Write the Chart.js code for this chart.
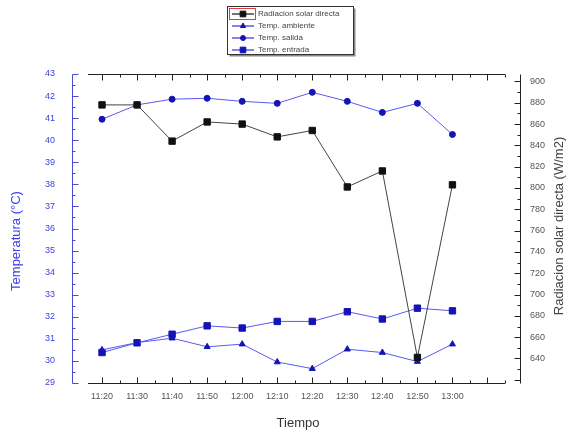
<!DOCTYPE html>
<html>
<head>
<meta charset="utf-8">
<script src="https://cdn.jsdelivr.net/npm/chart.js@4"></script>
<style>
  html, body { margin: 0; padding: 0; background: #fff; }
</style>
</head>
<body>
<canvas id="radChart" width="572" height="434"></canvas>
<script>
// Datos
const horas = ['11:20', '11:30', '11:40', '11:50', '12:00', '12:10', '12:20', '12:30', '12:40', '12:50', '13:00'];
const radiacion = [878, 878, 844, 862, 860, 848, 854, 801, 816, 641, 803];        // W/m2, eje derecho
const tempAmbiente = [30.5, 30.83, 31.03, 30.64, 30.76, 29.95, 29.65, 30.53, 30.38, 29.97, 30.76];
const tempSalida = [40.95, 41.6, 41.86, 41.9, 41.76, 41.67, 42.17, 41.76, 41.26, 41.67, 40.26];
const tempEntrada = [30.38, 30.82, 31.21, 31.59, 31.49, 31.79, 31.79, 32.23, 31.9, 32.39, 32.27];
const tempTicks = [29, 30, 31, 32, 33, 34, 35, 36, 37, 38, 39, 40, 41, 42, 43];
const radTicks = [640, 660, 680, 700, 720, 740, 760, 780, 800, 820, 840, 860, 880, 900];

const FONT = "'Liberation Sans', Arial, sans-serif";
const AZUL_LINEA = '#5a5af0';
const AZUL_PUNTO = '#1414b4';

function puntos(valores) {
  return valores.map((v, i) => ({ x: i, y: v }));
}

function linea(ctx, x1, y1, x2, y2) {
  ctx.beginPath();
  ctx.moveTo(x1, y1);
  ctx.lineTo(x2, y2);
  ctx.stroke();
}

// ejes separados al estilo Origin, con marcas hacia dentro
const ejesOrigin = {
  id: 'ejesOrigin',
  beforeDatasetsDraw(chart) {
    const { ctx, chartArea: a, scales } = chart;
    const yb = Math.round(a.bottom) + 0.5;
    const yt = Math.round(a.top) + 0.5;
    ctx.save();
    ctx.lineWidth = 1;

    ctx.strokeStyle = '#222';
    linea(ctx, a.left, yb, a.right, yb);
    linea(ctx, a.left, yt, a.right, yt);
    for (let v = 0; v <= 11.5; v += 0.5) {
      const px = Math.round(scales.x.getPixelForValue(v)) + 0.5;
      const len = Number.isInteger(v) ? 6 : 3;
      linea(ctx, px, yb, px, yb - len);
      linea(ctx, px, yt, px, yt + len);
    }

    const xl = Math.round(a.left) - 16 + 0.5;
    ctx.strokeStyle = '#4a4ad8';
    linea(ctx, xl, yt, xl, yb);
    for (let v = tempTicks[0]; v <= tempTicks[tempTicks.length - 1]; v += 0.5) {
      const py = Math.round(scales.y.getPixelForValue(v)) + 0.5;
      linea(ctx, xl, py, xl + (Number.isInteger(v) ? 6 : 3), py);
    }

    const xr = Math.round(a.right) + 15 + 0.5;
    ctx.strokeStyle = '#222';
    linea(ctx, xr, yt, xr, yb);
    for (let v = 620; v <= 900; v += 10) {
      const py = Math.round(scales.y1.getPixelForValue(v)) + 0.5;
      linea(ctx, xr, py, xr - (v % 20 === 0 ? 6 : 3), py);
    }
    ctx.restore();
  },
  afterDraw(chart) {
    const { ctx } = chart;
    ctx.save();
    ctx.textAlign = 'center';
    ctx.textBaseline = 'middle';
    ctx.font = '13px ' + FONT;

    ctx.fillStyle = '#333';
    ctx.fillText('Tiempo', 298, 423);

    ctx.save();
    ctx.translate(16, 241);
    ctx.rotate(-Math.PI / 2);
    ctx.fillStyle = '#3c3cf0';
    ctx.fillText('Temperatura (°C)', 0, 0);
    ctx.restore();

    ctx.save();
    ctx.translate(559, 226);
    ctx.rotate(-Math.PI / 2);
    ctx.fillStyle = '#444';
    ctx.fillText('Radiacion solar directa (W/m2)', 0, 0);
    ctx.restore();

    // leyenda
    const bx = 227.5, by = 6.5, bw = 126, bh = 48;
    ctx.fillStyle = '#888';
    ctx.fillRect(bx + 2, by + 2, bw, bh);
    ctx.fillStyle = '#fff';
    ctx.fillRect(bx, by, bw, bh);
    ctx.strokeStyle = '#333';
    ctx.lineWidth = 1;
    ctx.strokeRect(bx, by, bw, bh);

    ctx.font = '8px ' + FONT;
    ctx.textAlign = 'left';
    chart.data.datasets.forEach((ds, i) => {
      const cy = 14 + i * 12;
      ctx.strokeStyle = ds.borderColor;
      ctx.lineWidth = 1.5;
      linea(ctx, 232, cy, 254, cy);
      ctx.fillStyle = ds.pointBackgroundColor;
      ctx.strokeStyle = ds.pointBackgroundColor;
      ctx.lineWidth = 1;
      Chart.helpers.drawPoint(ctx, {
        pointStyle: ds.pointStyle, radius: ds.pointRadius - 0.5, borderWidth: 1, rotation: 0
      }, 243, cy);
      ctx.fillStyle = '#444';
      ctx.fillText(ds.label, 258, cy);
    });
    ctx.strokeStyle = '#e04040';
    ctx.lineWidth = 1;
    ctx.strokeRect(229.5, 8.5, 26, 11);
    ctx.restore();
  }
};

const rad = document.getElementById('radChart');
new Chart(rad, {
  type: 'line',
  data: {
    datasets: [{
      label: 'Radiacion solar directa',
      data: puntos(radiacion),
      yAxisID: 'y1',
      borderColor: '#444',
      pointBackgroundColor: '#111',
      pointBorderColor: '#111',
      pointStyle: 'rect',
      pointRadius: 4.5
    }, {
      label: 'Temp. ambiente',
      data: puntos(tempAmbiente),
      yAxisID: 'y',
      borderColor: AZUL_LINEA,
      pointBackgroundColor: AZUL_PUNTO,
      pointBorderColor: AZUL_PUNTO,
      pointStyle: 'triangle',
      pointRadius: 3.5
    }, {
      label: 'Temp. salida',
      data: puntos(tempSalida),
      yAxisID: 'y',
      borderColor: AZUL_LINEA,
      pointBackgroundColor: AZUL_PUNTO,
      pointBorderColor: AZUL_PUNTO,
      pointStyle: 'circle',
      pointRadius: 3
    }, {
      label: 'Temp. entrada',
      data: puntos(tempEntrada),
      yAxisID: 'y',
      borderColor: AZUL_LINEA,
      pointBackgroundColor: AZUL_PUNTO,
      pointBorderColor: AZUL_PUNTO,
      pointStyle: 'rect',
      pointRadius: 4.5
    }]
  },
  options: {
    responsive: false,
    animation: false,
    devicePixelRatio: 1,
    layout: { padding: { top: 74, left: 0, right: 0, bottom: 0 } },
    elements: {
      line: { borderWidth: 1, tension: 0 },
      point: { borderWidth: 1 }
    },
    plugins: {
      legend: { display: false },
      tooltip: { enabled: false }
    },
    scales: {
      x: {
        type: 'linear',
        min: -0.4,
        max: 11.5,
        afterBuildTicks(scale) {
          scale.ticks = horas.map((h, i) => ({ value: i }));
        },
        afterFit(scale) { scale.height = 51; },
        grid: { display: false, drawTicks: false },
        border: { display: false },
        ticks: {
          autoSkip: false,
          maxRotation: 0,
          padding: 8,
          color: '#555',
          font: { size: 9, family: FONT },
          callback: (v) => horas[v] ?? ''
        }
      },
      y: {
        position: 'left',
        min: tempTicks[0],
        max: tempTicks[tempTicks.length - 1],
        afterBuildTicks(scale) {
          scale.ticks = tempTicks.map(v => ({ value: v }));
        },
        afterFit(scale) { scale.width = 88; },
        grid: { display: false, drawTicks: false },
        border: { display: false },
        ticks: {
          padding: 33,
          color: '#4040e0',
          font: { size: 9, family: FONT }
        }
      },
      y1: {
        position: 'right',
        min: 617,
        max: 907,
        afterBuildTicks(scale) {
          scale.ticks = radTicks.map(v => ({ value: v }));
        },
        afterFit(scale) { scale.width = 67; },
        grid: { display: false, drawTicks: false },
        border: { display: false },
        ticks: {
          padding: 25,
          color: '#555',
          font: { size: 9, family: FONT }
        }
      }
    }
  },
  plugins: [ejesOrigin]
});
</script>
</body>
</html>
